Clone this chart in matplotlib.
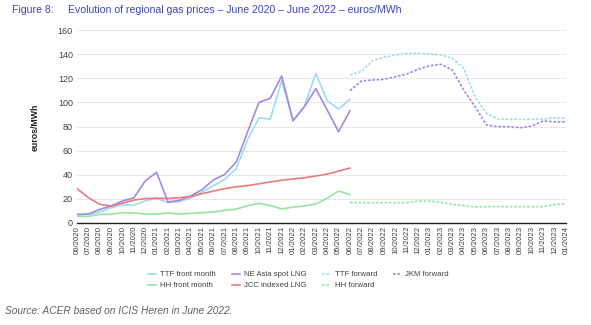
import numpy as np
import matplotlib.pyplot as plt
from matplotlib.lines import Line2D

# ── Données ─────────────────────────────────────────────────────────────────
months = ['06/2020', '07/2020', '08/2020', '09/2020', '10/2020', '11/2020', '12/2020',
          '01/2021', '02/2021', '03/2021', '04/2021', '05/2021', '06/2021', '07/2021',
          '08/2021', '09/2021', '10/2021', '11/2021', '12/2021', '01/2022', '02/2022',
          '03/2022', '04/2022', '05/2022', '06/2022', '07/2022', '08/2022', '09/2022',
          '10/2022', '11/2022', '12/2022', '01/2023', '02/2023', '03/2023', '04/2023',
          '05/2023', '06/2023', '07/2023', '08/2023', '09/2023', '10/2023', '11/2023',
          '12/2023', '01/2024']

# séries historiques : 06/2020 -> 06/2022
ttf_front = [6.9, 7.0, 9.1, 12.7, 15.2, 14.7, 18.3, 20.5, 16.9, 17.7, 20.8, 25.7, 31.0,
             36.3, 45.1, 69.0, 87.2, 86.2, 118.0, 84.8, 97.0, 124.0, 101.4, 94.5, 102.5]
ne_asia = [7.0, 7.5, 11.3, 14.1, 18.3, 20.8, 34.9, 42.0, 17.4, 18.8, 22.4, 27.7, 35.7,
           40.4, 50.5, 75.5, 100.0, 103.5, 121.9, 84.8, 96.4, 111.4, 93.7, 75.7, 93.0]
jcc = [28.5, 21.0, 15.5, 14.0, 16.5, 19.0, 20.2, 20.5, 20.3, 21.0, 22.0, 24.3, 26.5,
       28.5, 30.0, 31.0, 32.5, 34.0, 35.5, 36.5, 37.5, 39.0, 40.5, 43.0, 45.5]
hh_front = [5.5, 5.5, 7.2, 7.2, 8.6, 8.3, 7.5, 7.5, 8.3, 7.5, 8.0, 8.6, 9.1,
            10.5, 11.5, 14.4, 16.3, 14.5, 11.6, 13.2, 14.1, 15.8, 20.5, 26.5, 23.5]

# séries forward : 06/2022 -> 01/2024
ttf_fwd = [122.7, 125.5, 134.6, 137.4, 139.3, 140.4, 140.7, 140.1, 139.3, 136.6,
           128.3, 104.7, 91.0, 86.2, 86.0, 86.0, 86.0, 86.2, 87.3, 87.0]
jkm_fwd = [109.7, 117.7, 118.6, 119.1, 121.3, 123.5, 127.4, 130.4, 131.6, 126.9,
           110.3, 96.4, 81.3, 79.9, 79.9, 79.0, 80.4, 84.6, 83.8, 83.8]
hh_fwd = [16.9, 16.9, 16.9, 16.9, 16.9, 16.9, 18.2, 18.2, 17.1, 15.5,
          14.4, 13.3, 13.6, 13.6, 13.6, 13.6, 13.6, 13.6, 15.2, 16.0]

# ── Style ───────────────────────────────────────────────────────────────────
plt.rcParams['font.family'] = ['Liberation Sans', 'DejaVu Sans']

c_ttf = '#9edcf2'
c_asia = '#a487e6'
c_jcc = '#e87c7c'
c_hh = '#93e6a4'
c_text = '#404040'
c_title = '#3b44c4'
dash = (0, (1.6, 1))

fig = plt.figure(figsize=(5.91, 3.25), dpi=100)
ax = fig.add_axes([77 / 591, 1 - 223 / 325, (566 - 77) / 591, (223 - 30) / 325])

x_hist = np.arange(len(ttf_front))
x_fwd = np.arange(len(ttf_front) - 1, len(ttf_front) - 1 + len(ttf_fwd))

lw = 1.2
ax.plot(x_hist, ttf_front, color=c_ttf, lw=lw)
ax.plot(x_hist, ne_asia, color=c_asia, lw=lw)
ax.plot(x_hist, jcc, color=c_jcc, lw=lw)
ax.plot(x_hist, hh_front, color=c_hh, lw=lw)
ax.plot(x_fwd, ttf_fwd, color=c_ttf, lw=lw, ls=dash)
ax.plot(x_fwd, jkm_fwd, color=c_asia, lw=lw, ls=dash)
ax.plot(x_fwd, hh_fwd, color=c_hh, lw=lw, ls=dash)

ax.set_xlim(0, len(months) - 1)
ax.set_ylim(0, 160)
ax.set_yticks(np.arange(0, 161, 20))
ax.set_xticks(np.arange(len(months)))
ax.set_xticklabels(months, rotation=90, fontsize=5.6, color=c_text)
ax.tick_params(axis='y', labelsize=6.5, labelcolor=c_text, length=0, pad=3)
ax.tick_params(axis='x', length=0, pad=2)

ax.grid(True, axis='y', color='#d0d0d0', ls=(0, (2, 1.5)), lw=0.6)
ax.set_axisbelow(True)
for side in ['top', 'right', 'left']:
    ax.spines[side].set_visible(False)
ax.spines['bottom'].set_color('#202020')
ax.spines['bottom'].set_linewidth(1.0)

fig.text(35 / 591, 1 - 127 / 325, 'euros/MWh', rotation=90, fontsize=6.3,
         fontweight='bold', color='#202020', ha='center', va='center')

# Titre
fig.text(12 / 591, 1 - 10 / 325, 'Figure 8:', fontsize=7.55, color=c_title,
         ha='left', va='center')
fig.text(68 / 591, 1 - 10 / 325,
         'Evolution of regional gas prices \u2013 June 2020 \u2013 June 2022 \u2013 euros/MWh',
         fontsize=7.55, color=c_title, ha='left', va='center')

# Légende
handles = [
    Line2D([], [], color=c_ttf, lw=lw, label='TTF front month'),
    Line2D([], [], color=c_hh, lw=lw, label='HH front month'),
    Line2D([], [], color=c_asia, lw=lw, label='NE Asia spot LNG'),
    Line2D([], [], color=c_jcc, lw=lw, label='JCC indexed LNG'),
    Line2D([], [], color=c_ttf, lw=lw, ls=dash, label='TTF forward'),
    Line2D([], [], color=c_hh, lw=lw, ls=dash, label='HH forward'),
    Line2D([], [], color=c_asia, lw=lw, ls=dash, label='JKM forward'),
]
fig.legend(handles=handles, ncol=4, loc='upper left',
           bbox_to_anchor=(148 / 591, 1 - 271 / 325),
           frameon=False, fontsize=5.6, handlelength=1.0, handletextpad=0.6,
           columnspacing=2.0, labelspacing=0.45, labelcolor=c_text,
           borderpad=0, borderaxespad=0)

fig.text(5 / 591, 1 - 311 / 325, 'Source: ACER based on ICIS Heren in June 2022.',
         fontsize=7.3, style='italic', color='#606060', ha='left', va='center')

plt.savefig('out.png', dpi=100)
